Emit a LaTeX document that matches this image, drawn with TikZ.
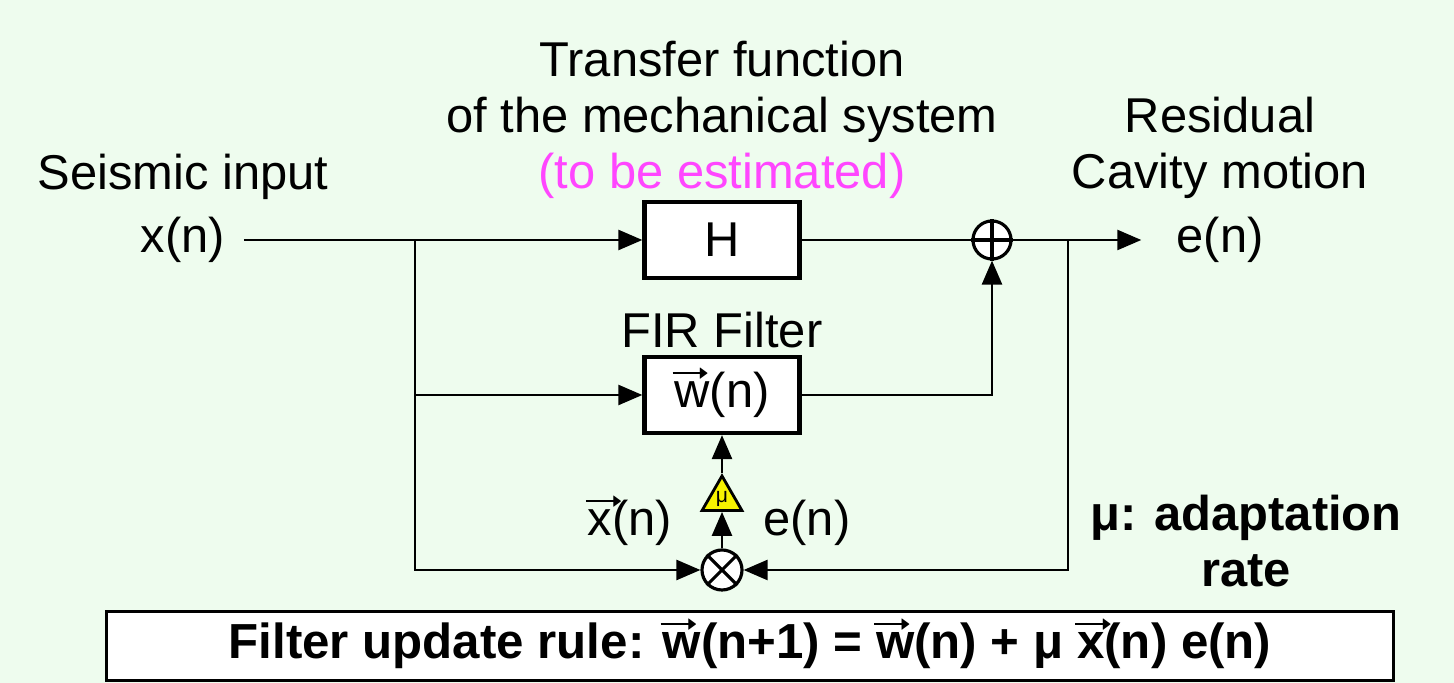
\documentclass[tikz,border=0pt]{standalone}
\usepackage{amssymb}
\usepackage{fontspec}
\usepackage{graphicx}
\setmainfont{Liberation Sans}
\usetikzlibrary{arrows.meta, shapes.geometric}
\definecolor{paper}{HTML}{EEFCEE}
\definecolor{estpink}{HTML}{FF46FF}
\definecolor{gainyellow}{HTML}{F6F200}
\newcommand{\vv}[1]{\leavevmode\rlap{\kern-0.04em\raisebox{0.68em}[0pt][0pt]{\rule{0.6em}{0.05em}\kern-0.06em\raisebox{-0.085em}{\resizebox{0.2em}{0.22em}{$\blacktriangleright$}}}}#1}
\tikzset{
  txt/.style={font=\fontsize{13.9}{16}\selectfont, align=center, inner sep=0pt},
  boldtxt/.style={font=\fontsize{13.9}{16}\selectfont\bfseries, align=center, inner sep=0pt},
  block/.style={
    rectangle, draw=black, fill=white, line width=1.2pt,
    minimum width=1.55cm, minimum height=0.76cm,
    font=\fontsize{13.9}{16}\selectfont
  },
  junction/.style={circle, draw=black, fill=white, line width=0.9pt, minimum size=0.38cm, inner sep=0pt},
  amp/.style={
    regular polygon, regular polygon sides=3, draw=black, fill=gainyellow,
    line width=0.8pt, minimum size=0.46cm, inner sep=0pt, font=\fontsize{6}{6}\selectfont
  },
  wire/.style={line width=0.7pt, draw=black},
  arrow/.style={wire, -{Triangle[length=2.4mm,width=2mm]}},
}

\begin{document}
\begin{tikzpicture}[x=0.01cm, y=-0.01cm]
  \fill[paper] (0,0) rectangle (1454,683);
  \useasboundingbox (0,0) rectangle (1454,683);

  % labels
  \node[txt] (tf) at (722,120) {Transfer function\\of the mechanical system\\{\color{estpink}(to be estimated)}};
  \node[txt] (seis) at (183,177) {Seismic input};
  \node[txt, inner xsep=0.18cm] (xin) at (183,240) {x(n)};
  \node[txt] (resid) at (1220,148) {Residual\\Cavity motion};
  \node[txt, inner xsep=0.345cm] (eout) at (1220,240) {e(n)};
  \node[txt] (firlbl) at (722,330) {FIR Filter};

  % blocks
  \node[block] (hbox) at (722,240) {H};
  \node[block] (fir) at (722,395) {\vv{w}(n)};
  \node[junction] (sum) at (992,240) {};
  \node[junction, minimum size=0.4cm] (mul) at (722,570) {};
  \node[amp] (mu) at (722,499) {μ};
  \draw[line width=0.9pt] (sum.north) -- (sum.south) (sum.west) -- (sum.east);
  \draw[line width=0.9pt] (mul.north east) -- (mul.south west) (mul.north west) -- (mul.south east);

  \node[txt] (xvec) at (630,523) {\vv{x}(n)};
  \node[txt] (eerr) at (807,523) {e(n)};
  \node[boldtxt] (rate) at (1246,541) {μ: adaptation\\rate};

  % wiring
  \coordinate (split) at (415,240);
  \coordinate (esplit) at (1068,240);
  \draw[arrow] (xin.east) -- (hbox.west);
  \draw[arrow] (split) |- (fir.west);
  \draw[arrow] (split) |- (mul.west);
  \draw[wire] (hbox.east) -- (sum.west);
  \draw[arrow] (fir.east) -| (sum.south);
  \draw[arrow] (sum.east) -- (eout.west);
  \draw[arrow] (esplit) |- (mul.east);
  \draw[arrow] (mul.north) -- (mu.side 2);
  \draw[arrow] (mu.corner 1) -- (fir.south);

  % update rule
  \node[rectangle, draw=black, fill=white, line width=1pt, minimum width=12.86cm, minimum height=0.59cm,
        font=\fontsize{14}{16}\selectfont\bfseries] (rule) at (750,646)
    {Filter update rule: \vv{w}(n+1) = \vv{w}(n) + μ \vv{x}(n) e(n)};
\end{tikzpicture}
\end{document}
